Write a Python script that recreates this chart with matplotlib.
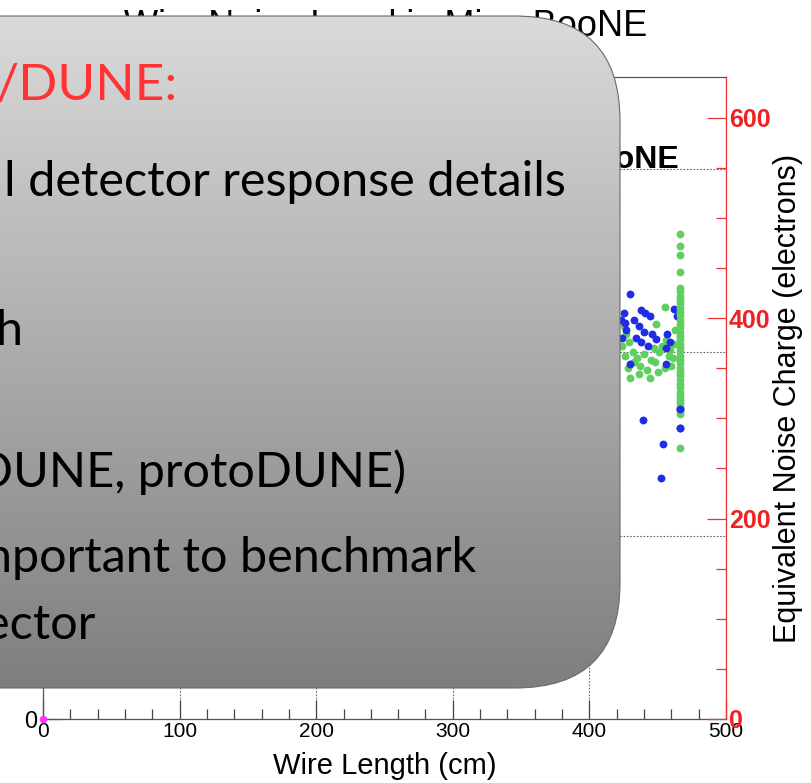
import numpy as np
import matplotlib
matplotlib.use("Agg")
import matplotlib.pyplot as plt
from matplotlib.patches import FancyBboxPatch
from matplotlib.ticker import MultipleLocator

# ---- data -------------------------------------------------------------
ENC_PER_ADC = 183.0   # electrons per ADC count (right axis conversion)

x_ticks = [0, 100, 200, 300, 400, 500]
enc_ticks = [0, 200, 400, 600]

# wire length (cm) and equivalent noise charge (electrons)
blue_x = [430, 425, 426, 427, 438, 441, 444, 433, 436, 440, 434, 438, 443,
          446, 449, 457, 459, 456, 462, 464, 430, 456, 466, 466, 439, 454,
          452.6, 423, 424]
blue_enc = [424, 405, 395, 388, 408, 405, 402, 398, 392, 386, 380, 376, 372,
            384, 379, 384, 376, 370, 409, 402, 354, 354, 309, 290, 298, 274,
            240, 398, 380]

green_x = [425, 427, 424, 429, 432, 426, 435, 440, 445, 437, 442, 448, 451,
           453, 456, 459, 461, 447, 450, 455, 460, 430, 444, 436, 449, 455,
           463, 462, 458, 433, 428]
green_enc = [392, 384, 372, 376, 366, 362, 360, 364, 358, 352, 348, 356, 366,
             372, 378, 368, 360, 370, 346, 350, 352, 340, 340, 344, 394, 411,
             388, 374, 362, 356, 350]

# longest wires: one column of channels at 466 cm
long_x = 466
long_enc = [270, 304, 307, 311, 315, 318, 322, 326, 331, 334, 338, 343, 346,
            350, 355, 358, 362, 367, 370, 374, 379, 382, 386, 391, 394, 398,
            403, 406, 410, 415, 418, 422, 427, 430, 446, 463, 472, 484]

pink_x = [0]
pink_enc = [0]

# ---- figure -----------------------------------------------------------
W, H = 811, 783
fig = plt.figure(figsize=(W / 100, H / 100), dpi=100)
fig.patch.set_facecolor("white")

sans = ["Liberation Sans", "DejaVu Sans"]

x0, x1, y0, y1 = 43, 726, 719, 77
ax = fig.add_axes([x0 / W, 1 - y0 / H, (x1 - x0) / W, (y0 - y1) / H])
ax.set_xlim(0, 500)
ax.set_ylim(0, 3.5)
ax.set_xticks(x_ticks)
ax.set_xticklabels([str(t) for t in x_ticks], family=sans, fontsize=15)
ax.xaxis.set_minor_locator(MultipleLocator(20))
ax.set_yticks([0, 1, 2, 3])
ax.set_yticklabels(["0", "1", "2", "3"], family=sans, fontsize=17)
ax.yaxis.set_minor_locator(MultipleLocator(0.2))
ax.tick_params(axis="both", which="major", direction="in", length=14,
               width=0.9, color="#444444", pad=2)
ax.tick_params(axis="both", which="minor", direction="in", length=7,
               width=0.9, color="#444444")
ax.tick_params(axis="y", pad=4)
ax.grid(True, which="major", ls=(0, (1.5, 1.5)), color="#666666", lw=0.8)
for s in ("left", "bottom", "top"):
    ax.spines[s].set_color("#555555")
    ax.spines[s].set_linewidth(0.9)
ax.spines["right"].set_visible(False)
ax.set_xlabel("Wire Length (cm)", family=sans, fontsize=21, labelpad=8)

ax2 = ax.twinx()
ax2.set_ylim(0, 3.5 * ENC_PER_ADC)
ax2.set_yticks(enc_ticks)
ax2.set_yticklabels([str(t) for t in enc_ticks], family=sans, fontsize=18,
                    fontweight="bold", color="#ee2222")
ax2.yaxis.set_minor_locator(MultipleLocator(50))
ax2.tick_params(axis="y", which="major", direction="in", length=14,
                width=0.9, color="#ee3333", pad=2)
ax2.tick_params(axis="y", which="minor", direction="in", length=7,
                width=0.9, color="#ee3333")
for s in ("left", "bottom", "top"):
    ax2.spines[s].set_visible(False)
ax2.spines["right"].set_color("#ee3333")
ax2.spines["right"].set_linewidth(0.9)
ax2.set_ylabel("Equivalent Noise Charge (electrons)", family=sans,
               fontsize=22, labelpad=2)

ax2.scatter(green_x, green_enc, s=32, color="#5fcf5f", lw=0, zorder=3)
ax2.scatter(blue_x, blue_enc, s=32, color="#1f2ee6", lw=0, zorder=4)
ax2.scatter([long_x] * len(long_enc), long_enc, s=32, color="#5fcf5f",
            lw=0, zorder=5)
ax2.scatter([466, 466], [309, 290], s=32, color="#1f2ee6", lw=0, zorder=6)
ax2.scatter(pink_x, pink_enc, s=30, color="#ff33ff", lw=0, zorder=7,
            clip_on=False)

ax2.text(466, 550, "MicroBooNE", ha="right", va="baseline", family=sans,
         fontsize=23, fontweight="bold")

fig.text(386 / W, 1 - 36 / H, "Wire Noise Level in MicroBooNE", ha="center",
         va="baseline", family=sans, fontsize=26)

# ---- rounded slide panel on top ---------------------------------------
ov = fig.add_axes([0, 0, 1, 1], zorder=10)
ov.set_xlim(0, W)
ov.set_ylim(H, 0)
ov.axis("off")
ov.patch.set_visible(False)

bx0, bx1, by0, by1 = -150, 620, 16, 688
panel = FancyBboxPatch((bx0, by0), bx1 - bx0, by1 - by0,
                       boxstyle="round,pad=0,rounding_size=105",
                       facecolor="none", edgecolor="#6a6a6a", lw=0.8,
                       zorder=3)
ov.add_patch(panel)
grad = np.linspace(0, 1, 256).reshape(-1, 1)
top_c = np.array([0.855, 0.855, 0.855])
bot_c = np.array([0.495, 0.495, 0.495])
img = top_c + grad[..., None] * (bot_c - top_c)
im = ov.imshow(img, extent=(bx0, bx1, by1, by0), aspect="auto",
               interpolation="bilinear", zorder=2)
im.set_clip_path(panel)

slide = dict(family=["Lato", "DejaVu Sans"], fontweight="normal",
             ha="right", va="baseline", zorder=4)
ov.text(178, 99, "/DUNE:", color="#ff3333", fontsize=37, **slide)
ov.text(566, 196, "l detector response details", color="black",
        fontsize=35, **slide)
ov.text(23, 345, "h", color="black", fontsize=35, **slide)
ov.text(406, 487, "DUNE, protoDUNE)", color="black", fontsize=35, **slide)
ov.text(476, 572, "nportant to benchmark", color="black", fontsize=35,
        **slide)
ov.text(95, 639, "ector", color="black", fontsize=35, **slide)

fig.savefig("out.png", dpi=100)
